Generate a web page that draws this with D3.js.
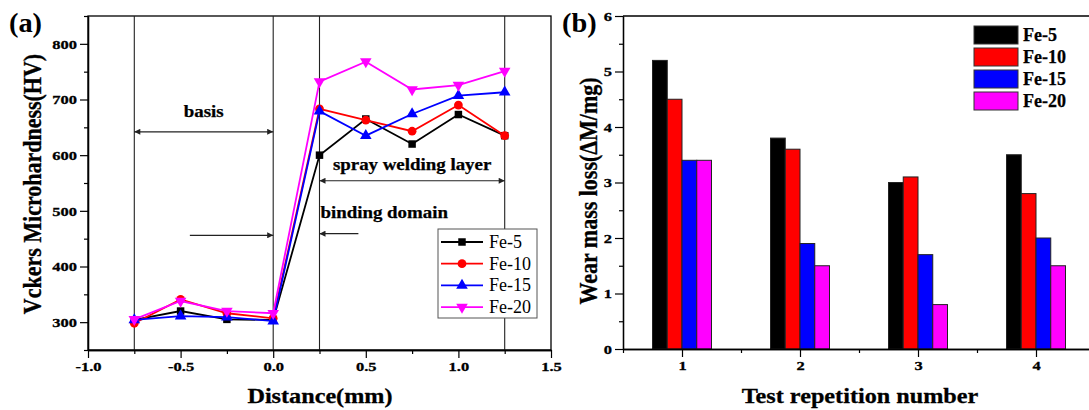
<!DOCTYPE html>
<html><head><meta charset="utf-8">
<script src="https://cdn.jsdelivr.net/npm/d3@7"></script>
<style>
body{margin:0;background:#fff}
svg{display:block}
text{font-family:"Liberation Serif","Times New Roman",serif;fill:#000}
</style>
</head><body>
<svg id="c" width="1089" height="410"></svg>
<script>
// ---- data ----
const distances = [-0.75, -0.5, -0.25, 0, 0.25, 0.5, 0.75, 1.0, 1.25];
const hvFe5  = [304, 320, 305, 304, 600, 665, 620, 673, 635];
const hvFe10 = [298, 341, 316, 307, 683, 663, 643, 690, 635];
const hvFe15 = [304, 311, 309, 302, 679, 635, 674, 707, 713];
const hvFe20 = [305, 338, 320, 316, 732, 768, 718, 726, 751];
const seriesNames = ["Fe-5", "Fe-10", "Fe-15", "Fe-20"];
const seriesColors = ["#000000", "#ff0000", "#0000ff", "#ff00ff"];
const repetitions = [1, 2, 3, 4];
const lossFe5  = [5.2, 3.8, 3.0, 3.5];
const lossFe10 = [4.5, 3.6, 3.1, 2.8];
const lossFe15 = [3.4, 1.9, 1.7, 2.0];
const lossFe20 = [3.4, 1.5, 0.8, 1.5];
const hvTicks = [300, 400, 500, 600, 700, 800];
const hvMinor = [250, 350, 450, 550, 650, 750, 850];
const distTicks = [-1.0, -0.5, 0.0, 0.5, 1.0, 1.5];
const distMinor = [-0.75, -0.25, 0.25, 0.75, 1.25];
const lossTicks = [0, 1, 2, 3, 4, 5, 6];
const lossMinor = [0.5, 1.5, 2.5, 3.5, 4.5, 5.5];
const repMinor = [0.5, 1.5, 2.5, 3.5, 4.5];
const regionLines = [-0.75, 0, 0.25, 1.25];

const svg = d3.select("#c");
function stretch(sel, k) {
  sel.each(function () {
    const l = this.getComputedTextLength();
    this.setAttribute("textLength", l * k);
    this.setAttribute("lengthAdjust", "spacingAndGlyphs");
  });
}
const fmt1 = d => d.toFixed(1);  // plain hyphen-minus like the reference
const defs = svg.append("defs");
defs.append("marker").attr("id", "ah").attr("viewBox", "0 0 10 10")
  .attr("refX", 10).attr("refY", 5).attr("markerWidth", 8).attr("markerHeight", 6)
  .attr("markerUnits", "userSpaceOnUse").attr("orient", "auto-start-reverse")
  .append("path").attr("d", "M0,0L10,5L0,10z").attr("fill", "#222");

// ================= (a) line chart =================
const xA = d3.scaleLinear().domain([-1, 1.5]).range([88, 551]);
const yA = d3.scaleLinear().domain([250, 850]).range([350, 16]);
const gA = svg.append("g");

gA.append("rect").attr("x", xA(-1)).attr("y", yA(850))
  .attr("width", xA(1.5) - xA(-1)).attr("height", yA(250) - yA(850))
  .attr("fill", "none").attr("stroke", "#000").attr("stroke-width", 1.3);

gA.selectAll("line.reg").data(regionLines).join("line").attr("class", "reg")
  .attr("x1", d => xA(d)).attr("x2", d => xA(d))
  .attr("y1", yA(850)).attr("y2", yA(250))
  .attr("stroke", "#222").attr("stroke-width", 1.1);

gA.append("g").attr("transform", `translate(${xA(-1)},0)`)
  .call(d3.axisLeft(yA).tickValues(hvTicks).tickSize(8).tickSizeOuter(0).tickFormat(d3.format("d")));
gA.append("g").attr("transform", `translate(${xA(-1)},0)`)
  .call(d3.axisLeft(yA).tickValues(hvMinor).tickSize(4).tickSizeOuter(0).tickFormat(""));
gA.append("g").attr("transform", `translate(0,${yA(250)})`)
  .call(d3.axisBottom(xA).tickValues(distTicks).tickSize(8).tickSizeOuter(0).tickFormat(fmt1));
gA.append("g").attr("transform", `translate(0,${yA(250)})`)
  .call(d3.axisBottom(xA).tickValues(distMinor).tickSize(4).tickSizeOuter(0).tickFormat(""));

function arrow(g, x1, x2, y, both) {
  const l = g.append("line").attr("x1", x1).attr("x2", x2).attr("y1", y).attr("y2", y)
    .attr("stroke", "#222").attr("stroke-width", 1.2).attr("marker-end", "url(#ah)");
  if (both) l.attr("marker-start", "url(#ah)");
}
arrow(gA, xA(-0.75), xA(0), yA(642), true);
arrow(gA, xA(0.25), xA(1.25), yA(554), true);
arrow(gA, xA(-0.45), xA(0), yA(456), false);
arrow(gA, xA(0.46), xA(0.25), yA(459), false);
const annA = gA.append("g").attr("font-weight", "bold").attr("font-size", 16)
  .attr("stroke", "#000").attr("stroke-width", 0.25);
annA.append("text").attr("x", xA(-0.375)).attr("y", yA(669)).attr("text-anchor", "middle").text("basis");
annA.append("text").attr("x", xA(0.75)).attr("y", yA(573)).attr("text-anchor", "middle").text("spray welding layer");
annA.append("text").attr("x", xA(0.255)).attr("y", yA(487)).text("binding domain");

const seriesA = [hvFe5, hvFe10, hvFe15, hvFe20];
const symbols = [d3.symbolSquare, d3.symbolCircle, d3.symbolTriangle, d3.symbolTriangle];
const symSize = [56, 60, 58, 58];
const symRot = [0, 0, 0, 180];
const line = d3.line().x((d, i) => xA(distances[i])).y(d => yA(d));
seriesA.forEach((vals, s) => {
  gA.append("path").datum(vals).attr("d", line).attr("fill", "none")
    .attr("stroke", seriesColors[s]).attr("stroke-width", 1.8);
  gA.selectAll(null).data(vals).join("path")
    .attr("transform", (d, i) => `translate(${xA(distances[i])},${yA(d)}) rotate(${symRot[s]})`)
    .attr("d", d3.symbol(symbols[s], symSize[s])).attr("fill", seriesColors[s]);
});

const lgA = gA.append("g");
lgA.append("rect").attr("x", 438).attr("y", 229).attr("width", 99).attr("height", 89)
  .attr("fill", "#fff").attr("stroke", "#555").attr("stroke-width", 1);
seriesNames.forEach((n, s) => {
  const cy = 242 + s * 21.7;
  lgA.append("line").attr("x1", 441).attr("x2", 483).attr("y1", cy).attr("y2", cy)
    .attr("stroke", seriesColors[s]).attr("stroke-width", 1.8);
  lgA.append("path").attr("transform", `translate(462,${cy}) rotate(${symRot[s]})`)
    .attr("d", d3.symbol(symbols[s], symSize[s])).attr("fill", seriesColors[s]);
  lgA.append("text").attr("x", 489).attr("y", cy + 6).attr("font-size", 18).text(n);
});

gA.append("text").attr("x", 9).attr("y", 32).attr("font-size", 27).attr("font-weight", "bold")
  .attr("class", "pl").text("(a)");
gA.append("text").attr("x", 320).attr("y", 403).attr("text-anchor", "middle")
  .attr("font-size", 22).attr("font-weight", "bold").attr("class", "xt").text("Distance(mm)");
gA.append("text").attr("transform", "translate(41,184) rotate(-90) scale(1,1.12)").attr("text-anchor", "middle")
  .attr("font-size", 22).attr("font-weight", "bold").attr("class", "yt").text("Vckers Microhardness(HV)");

// ================= (b) bar chart =================
const xB = d3.scaleLinear().domain([0.5, 4.5]).range([623, 1095]);
const yB = d3.scaleLinear().domain([0, 6]).range([349, 16]);
const sub = d3.scaleBand().domain(seriesNames).range([-0.25, 0.25]);
const gB = svg.append("g");
const seriesB = [lossFe5, lossFe10, lossFe15, lossFe20];
seriesB.forEach((vals, s) => {
  gB.selectAll(null).data(vals).join("rect")
    .attr("x", (d, i) => xB(repetitions[i] + sub(seriesNames[s])))
    .attr("width", xB(0.5 + sub.bandwidth()) - xB(0.5))
    .attr("y", d => yB(d)).attr("height", d => yB(0) - yB(d))
    .attr("fill", seriesColors[s]).attr("stroke", "#222").attr("stroke-width", 1);
});
gB.append("path").attr("d", `M${xB(0.5)},${yB(6)}H${xB(4.5)}V${yB(0)}`)
  .attr("fill", "none").attr("stroke", "#000").attr("stroke-width", 1.3);
gB.append("g").attr("transform", `translate(${xB(0.5)},0)`)
  .call(d3.axisLeft(yB).tickValues(lossTicks).tickSize(8).tickSizeOuter(0).tickFormat(d3.format("d")));
gB.append("g").attr("transform", `translate(${xB(0.5)},0)`)
  .call(d3.axisLeft(yB).tickValues(lossMinor).tickSize(4).tickSizeOuter(0).tickFormat(""));
gB.append("g").attr("transform", `translate(0,${yB(0)})`)
  .call(d3.axisBottom(xB).tickValues(repetitions).tickSize(8).tickSizeOuter(0).tickFormat(d3.format("d")));
gB.append("g").attr("transform", `translate(0,${yB(0)})`)
  .call(d3.axisBottom(xB).tickValues(repMinor).tickSize(4).tickSizeOuter(0).tickFormat(""));

seriesNames.forEach((n, s) => {
  const y0 = 26 + s * 22;
  gB.append("rect").attr("x", 974).attr("y", y0).attr("width", 44).attr("height", 18)
    .attr("fill", seriesColors[s]).attr("stroke", "#333").attr("stroke-width", 1);
  gB.append("text").attr("x", 1023).attr("y", y0 + 15).attr("font-size", 18)
    .attr("font-weight", "bold").attr("stroke", "#000").attr("stroke-width", 0.25).text(n);
});

gB.append("text").attr("x", 562).attr("y", 32).attr("font-size", 27).attr("font-weight", "bold")
  .attr("class", "pl").text("(b)");
gB.append("text").attr("x", 860).attr("y", 403).attr("text-anchor", "middle")
  .attr("font-size", 22).attr("font-weight", "bold").attr("class", "xt").text("Test repetition number");
gB.append("text").attr("transform", "translate(597,191) rotate(-90) scale(1,1.12)").attr("text-anchor", "middle")
  .attr("font-size", 22).attr("font-weight", "bold").attr("class", "yt").text("Wear mass loss(ΔM/mg)");

// axis styling
svg.selectAll(".domain").attr("stroke", "#000").attr("stroke-width", 1.3);
svg.selectAll(".tick line").attr("stroke", "#000").attr("stroke-width", 1.2);
svg.selectAll(".tick text").attr("font-family", '"Liberation Serif","Times New Roman",serif')
  .attr("font-size", 13.5).attr("font-weight", "bold").attr("fill", "#000")
  .attr("stroke", "#000").attr("stroke-width", 0.3);
svg.selectAll("text.xt, text.yt").attr("stroke", "#000").attr("stroke-width", 0.3);
stretch(svg.selectAll(".tick text"), 1.22);
stretch(annA.selectAll("text"), 1.18);
stretch(svg.selectAll("text.xt"), 1.1);
stretch(svg.selectAll("text.pl"), 1.05);
</script>
</body></html>
